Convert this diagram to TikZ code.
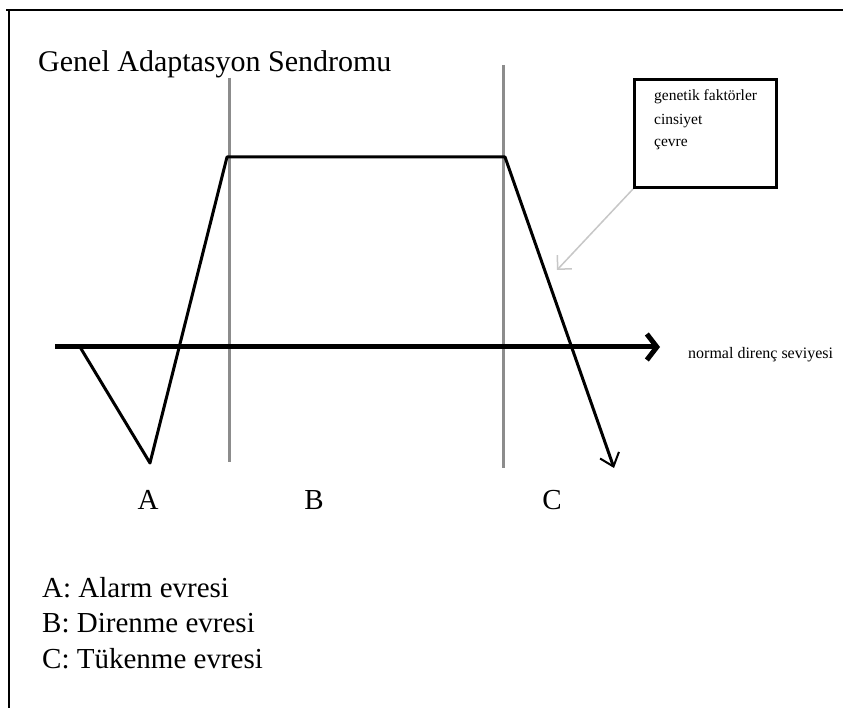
\documentclass[tikz,border=0pt]{standalone}
\usepackage{fontspec}
\setmainfont{Liberation Serif}
\usetikzlibrary{arrows.meta}
\begin{document}
\begin{tikzpicture}[x=1pt,y=-1pt,
  big/.style={font=\fontsize{29}{32}\selectfont, inner sep=0pt, anchor=west},
  small/.style={font=\fontsize{15.5}{18}\selectfont, inner sep=0pt, anchor=west},
  phase/.style={draw=black!45, line width=3pt},
  curve/.style={draw=black, line width=3pt},
  frameline/.style={draw=black, line width=2.5pt}]
\useasboundingbox (0,0) rectangle (843,708);
\fill[white] (0,0) rectangle (843,708);
% frame
\coordinate (f1) at (6,10);
\coordinate (f2) at (843,10);
\coordinate (f3) at (9,10);
\coordinate (f4) at (9,708);
\draw[frameline] (f1) -- (f2);
\draw[frameline] (f3) -- (f4);
% title
\node[big, font=\fontsize{30}{32}\selectfont] (title) at (38,64) {Genel Adaptasyon Sendromu};
% phase lines
\coordinate (p1t) at (229,78); \coordinate (p1b) at (229,462);
\coordinate (p2t) at (503,65); \coordinate (p2b) at (503,468);
\draw[phase] (p1t) -- (p1b);
\draw[phase] (p2t) -- (p2b);
% axis
\coordinate (ax0) at (55,347);
\coordinate (ax1) at (660,347);
\draw[line width=5pt, -{Straight Barb[length=10pt,width=26pt,line width=5pt]}] (ax0) -- (ax1);
\node[small, font=\fontsize{16}{18}\selectfont] (normal) at (688,355) {normal direnç seviyesi};
% curve
\coordinate (c0) at (80,347);
\coordinate (c1) at (150,463);
\coordinate (c2) at (227,157);
\coordinate (c3) at (505,157);
\coordinate (c4) at (614,468);
\draw[curve, line join=round, -{Straight Barb[length=12pt,width=20pt,line width=2pt]}] (c0) -- (c1) -- (c2) -- (c3) -- (c4);
% box
\node[draw=black, line width=3pt, minimum width=142pt, minimum height=108pt, anchor=north west, inner sep=0pt] (box) at (633,78) {};
\node[small] (g1) at (654,97) {genetik faktörler};
\node[small] (g2) at (654,121) {cinsiyet};
\node[small] (g3) at (654,145) {çevre};
\coordinate (ga) at (557,270);
\draw[black!22, line width=1.5pt, -{Straight Barb[length=10pt,width=20pt,line width=1.5pt]}] (box.south west) -- (ga);
% labels
\node[big, anchor=center] (A) at (148,500) {A};
\node[big, anchor=center] (B) at (314,500) {B};
\node[big, anchor=center] (C) at (552,500) {C};
% legend
\node[big] (lA) at (42,588) {A: Alarm evresi};
\node[big] (lB) at (42,623) {B: Direnme evresi};
\node[big] (lC) at (42,659) {C: Tükenme evresi};
\end{tikzpicture}
\end{document}
